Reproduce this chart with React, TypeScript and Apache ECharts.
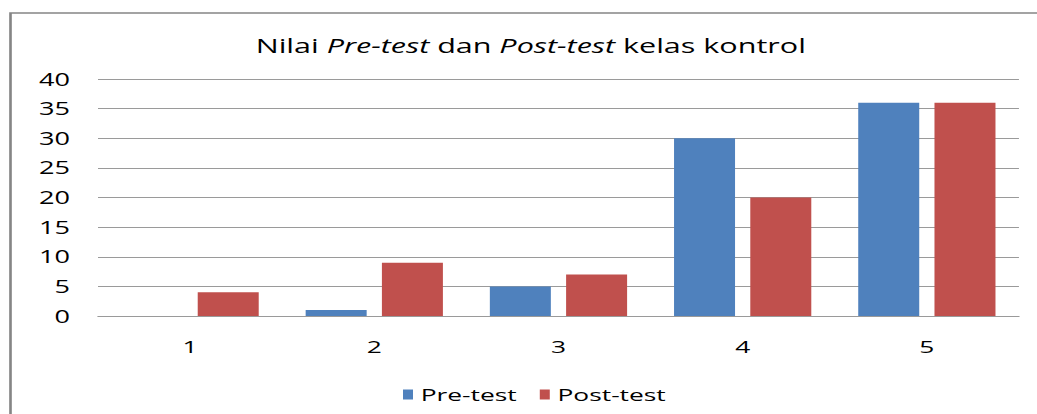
import React, { useEffect, useRef } from "react";
import * as echarts from "echarts";

const categories = ["1", "2", "3", "4", "5"];
const preTest = [0, 1, 5, 30, 36];
const postTest = [4, 9, 7, 20, 36];
const seriesNames = ["Pre-test", "Post-test"];

const FONT = "'Open Sans', 'Noto Sans', sans-serif";
// The reference picture is horizontally stretched; we draw in a narrower box and stretch it.
const SX = 1.55;
const W = 1037 / SX;

export default function App() {
  const ref = useRef<HTMLDivElement>(null);
  useEffect(() => {
    const chart = echarts.init(ref.current!, null, { renderer: "svg" });
    chart.setOption({
      animation: false,
      backgroundColor: "#ffffff",
      title: {
        text: "Nilai {i|Pre-test} dan {i|Post-test} kelas kontrol",
        left: 523 / SX,
        textAlign: "center",
        top: 31,
        textStyle: {
          fontFamily: FONT,
          fontSize: 19.7,
          fontWeight: "normal",
          color: "#000",
          rich: {
            i: { fontFamily: FONT, fontSize: 19.7, fontStyle: "italic", color: "#000" },
          },
        },
      },
      graphic: [
        {
          type: "rect",
          shape: { x: 10.5 / SX, y: 13, width: 1100, height: 500 },
          style: { fill: "none", stroke: "#858585", lineWidth: 1.7 },
          silent: true,
        },
      ],
      legend: {
        bottom: 11,
        left: 403 / SX,
        padding: 0,
        itemWidth: 10 / SX,
        itemHeight: 10,
        itemGap: 23 / SX,
        icon: "rect",
        textStyle: { fontFamily: FONT, fontSize: 17, color: "#000" },
        data: seriesNames,
      },
      grid: { left: 98 / SX, right: 18 / SX, top: 79, bottom: 98 },
      xAxis: {
        type: "category",
        data: categories,
        axisTick: { show: false },
        axisLine: { lineStyle: { color: "#9a9a9a", width: 1 } },
        axisLabel: { fontFamily: FONT, fontSize: 17, color: "#000", margin: 22 },
      },
      yAxis: {
        type: "value",
        min: 0,
        max: 40,
        interval: 5,
        axisLine: { show: false },
        axisTick: { show: false },
        axisLabel: { fontFamily: FONT, fontSize: 17.5, color: "#000", margin: 28 / SX },
        splitLine: { lineStyle: { color: "#9a9a9a", width: 1 } },
      },
      series: [
        {
          name: seriesNames[0],
          type: "bar",
          data: preTest,
          barWidth: 61 / SX,
          barGap: "25%",
          itemStyle: { color: "#4F81BD" },
        },
        {
          name: seriesNames[1],
          type: "bar",
          data: postTest,
          barWidth: 61 / SX,
          barGap: "25%",
          itemStyle: { color: "#C0504D" },
        },
      ],
    });
    return () => chart.dispose();
  }, []);
  return (
    <div style={{ position: "absolute", left: 0, top: 0, width: 1037, height: 414, overflow: "hidden", background: "#fff" }}>
      <div
        ref={ref}
        style={{
          position: "absolute",
          left: 0,
          top: 0,
          width: W,
          height: 414,
          transform: `scaleX(${SX})`,
          transformOrigin: "0 0",
        }}
      />
    </div>
  );
}
